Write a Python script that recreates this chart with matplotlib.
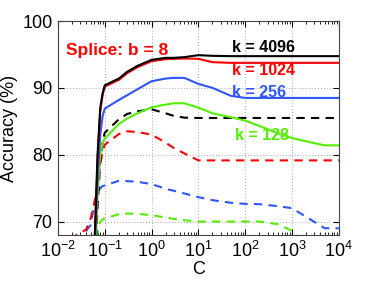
import matplotlib
matplotlib.use("Agg")
import matplotlib.pyplot as plt
from matplotlib.ticker import LogLocator, NullFormatter, FixedLocator

plt.rcParams['font.family'] = ['Liberation Sans', 'DejaVu Sans']
plt.rcParams['mathtext.fontset'] = 'custom'
plt.rcParams['mathtext.rm'] = 'Liberation Sans'
plt.rcParams['mathtext.it'] = 'Liberation Sans:italic'
plt.rcParams['mathtext.bf'] = 'Liberation Sans:bold'

C = [0.01, 0.02, 0.03, 0.04, 0.05, 0.06, 0.07, 0.08, 0.09, 0.1, 0.2, 0.3, 0.5,
     1, 2, 3, 5, 10, 20, 50, 100, 200, 500, 1000, 2000, 5000, 10000]

k4096 = [55, 55, 55, 56, 60, 66, 80, 87, 89.2, 90.4, 91.4, 92.4, 93.3,
         94.2, 94.5, 94.5, 94.6, 94.9, 94.8, 94.75, 94.75, 94.75, 94.75, 94.75, 94.75, 94.75, 94.75]
k1024 = [55, 55, 55, 56, 60, 66, 79, 86.5, 89.0, 90.2, 91.2, 92.2, 93.1,
         94.0, 94.3, 94.35, 94.4, 94.35, 93.85, 93.75, 93.75, 93.75, 93.75, 93.75, 93.75, 93.75, 93.75]
k256 = [55, 55, 55, 56, 58, 64, 76, 83, 85.8, 86.9, 88.2, 88.9, 89.8,
        91.0, 91.4, 91.5, 91.5, 90.6, 90.0, 88.8, 88.5, 88.5, 88.5, 88.5, 88.5, 88.5, 88.5]
k128 = [55, 55, 55, 56, 57, 62, 74, 80, 81.8, 82.4, 84.6, 85.4, 86.2,
        87.1, 87.5, 87.7, 87.7, 87.05, 86.2, 85.6, 85.1, 84.3, 83.2, 82.5, 82.0, 81.4, 81.4]

k4096_d = [55, 55, 55, 56, 55, 62, 72, 79, 82, 83.3, 85.3, 86.1, 86.5,
           86.8, 86.2, 85.8, 85.55, 85.5, 85.5, 85.5, 85.5, 85.5, 85.5, 85.5, 85.5, 85.5, 85.5]
k1024_d = [60, 67.6, 68.3, 68.8, 70.5, 72.8, 75.5, 78.5, 80.5, 81.5, 83.1, 83.5, 83.4,
           83.0, 81.8, 81.0, 80.2, 79.15, 79.15, 79.15, 79.15, 79.15, 79.15, 79.15, 79.15, 79.15, 79.15]
k256_d = [60, 66.5, 67.8, 68.6, 69.5, 72.8, 74.2, 75.0, 75.3, 75.4, 76.1, 76.05, 75.95,
          75.6, 74.9, 74.6, 74.2, 73.65, 73.2, 72.8, 72.65, 72.6, 72.3, 72.0, 70.7, 69.0, 69.0]
k128_d = [55, 55, 55, 56, 55, 62, 68.5, 70.0, 70.3, 70.5, 71.1, 71.2, 71.15,
          70.95, 70.6, 70.4, 70.2, 70.0, 70.0, 70.0, 70.0, 70.0, 69.6, 68.6, 66.5, 64, 63]

BLACK = 'black'
RED = '#ff0000'
BLUE = '#2e55ff'
GREEN = '#55ee00'

fig = plt.figure(figsize=(3.74, 2.81), dpi=100)
ax = fig.add_axes([0.155, 0.164, 0.751, 0.761])

lw = 1.5
dash = (0, (4, 3))
ax.plot(C, k128_d, color=GREEN, lw=lw, ls=dash)
ax.plot(C, k256_d, color=BLUE, lw=lw, ls=dash)
ax.plot(C, k1024_d, color=RED, lw=lw, ls=dash)
ax.plot(C, k4096_d, color=BLACK, lw=lw, ls=dash)
ax.plot(C, k128, color=GREEN, lw=lw)
ax.plot(C, k256, color=BLUE, lw=lw)
ax.plot(C, k1024, color=RED, lw=lw)
ax.plot(C, k4096, color=BLACK, lw=lw)

ax.set_xscale('log')
ax.set_xlim(1e-2, 1e4)
ax.set_ylim(68, 100)
ax.yaxis.set_major_locator(FixedLocator([70, 80, 90, 100]))
ax.xaxis.set_major_locator(LogLocator(base=10, numticks=10))
ax.xaxis.set_minor_locator(LogLocator(base=10, subs=range(2, 10), numticks=20))
ax.xaxis.set_minor_formatter(NullFormatter())
ax.grid(True, which='major', ls=(0, (1, 2)), color='#aaaaaa', lw=0.7)
ax.tick_params(which='both', direction='in', top=True, right=True, labelsize=13, pad=4)
ax.tick_params(which='major', length=4)
ax.tick_params(which='minor', length=2)
for s in ax.spines.values():
    s.set_color('#444444')
    s.set_linewidth(0.8)

ax.set_xlabel('C', fontsize=13, labelpad=0)
ax.set_ylabel('Accuracy (%)', fontsize=13, labelpad=3)

ax.text(0.0148, 95.6, 'Splice: b = 8', color=RED, fontsize=12.5, fontweight='bold', va='center')
ax.text(52, 96.1, 'k = 4096', color=BLACK, fontsize=11.5, fontweight='bold', va='center')
ax.text(52, 92.65, 'k = 1024', color=RED, fontsize=11.5, fontweight='bold', va='center')
ax.text(52, 89.35, 'k = 256', color=BLUE, fontsize=11.5, fontweight='bold', va='center')
ax.text(60, 82.9, 'k = 128', color=GREEN, fontsize=11.5, fontweight='bold', va='center')

fig.savefig('out.png', dpi=100)
